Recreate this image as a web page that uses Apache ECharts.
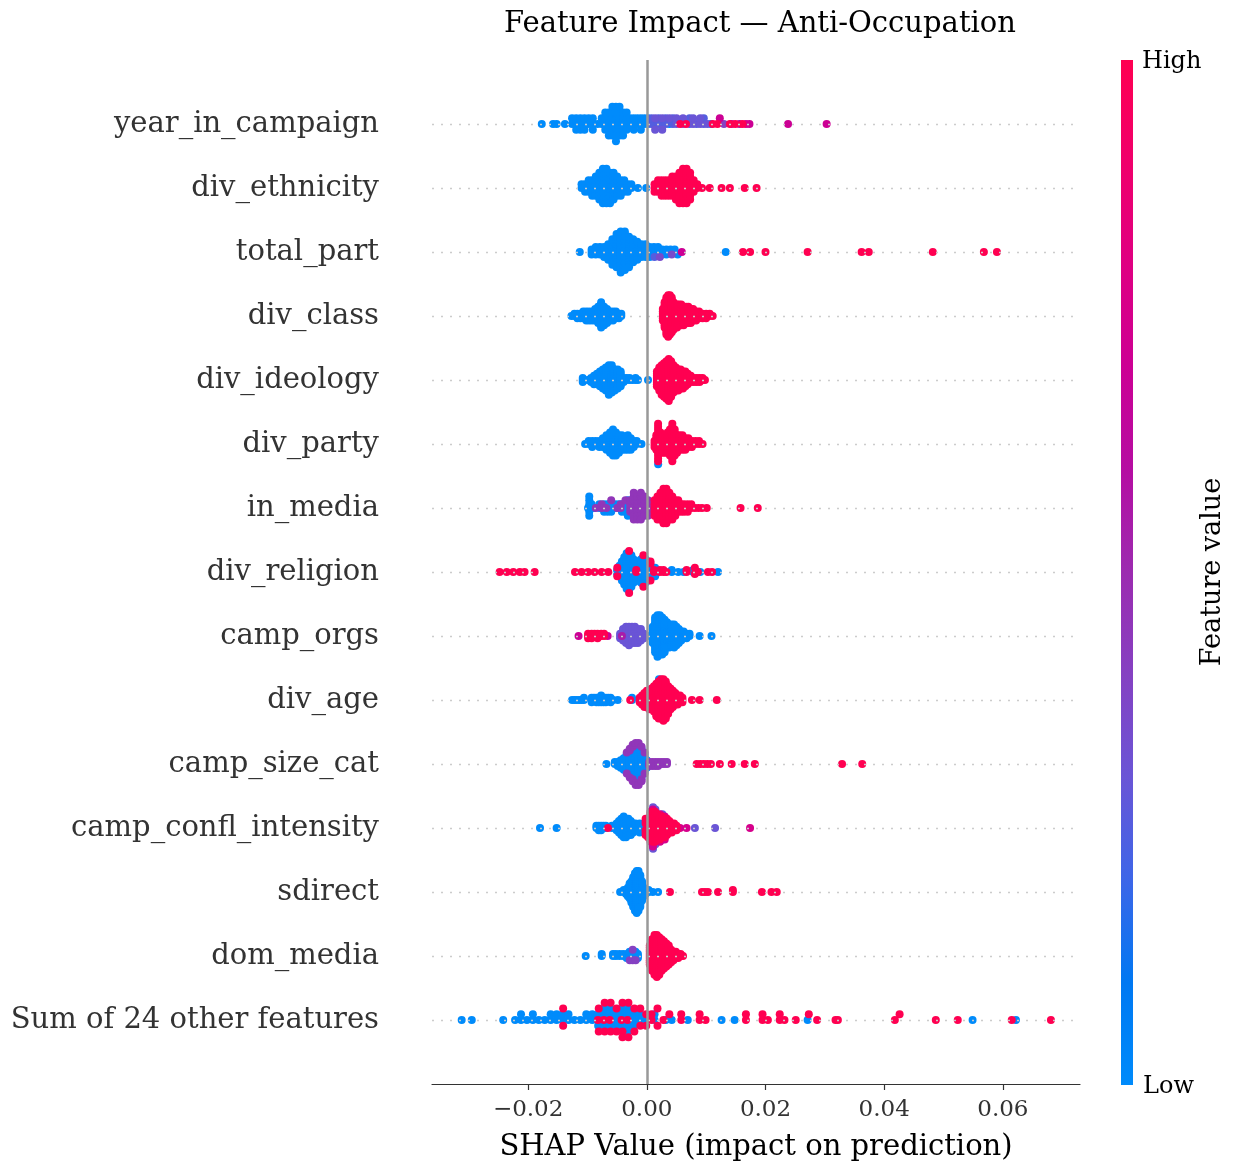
<!DOCTYPE html>
<html><head><meta charset="utf-8">
<script src="https://cdn.jsdelivr.net/npm/echarts@6/dist/echarts.min.js"></script>
<style>html,body{margin:0;padding:0;background:#fff}#c{width:1233px;height:1163px}</style>
</head><body><div id="c"></div>
<script>
// Feature names, top to bottom
const FEATURES = ["year_in_campaign","div_ethnicity","total_part","div_class","div_ideology","div_party","in_media","div_religion","camp_orgs","div_age","camp_size_cat","camp_confl_intensity","sdirect","dom_media","Sum of 24 other features"];
const X_TICKS = [-0.02, 0.00, 0.02, 0.04, 0.06];
const X_MIN = -0.0362, X_MAX = 0.0730;
// Colormap stops (low -> high feature value)
const COLOR_STOPS = ["#008bfb","#0078f2","#3d66e8","#6a55d6","#8541c2","#9c2bb0","#b50da2","#cc0094","#df0082","#f0006b","#ff0051"];

// Per feature: groups [normalized feature value, [shap (x0.001), count, shap, count, ...]]
const YEAR_IN_CAMPAIGN = [
 [0, [-17.7,1, -15.8,1, -15.2,1, -13.8,1, -12.6,2, -11.9,3, -11.2,3, -10.5,3, -9.8,2, -9.1,3, -8.3,1, -7.6,2, -7.0,4, -6.4,5, -5.8,6,
      -5.2,7, -4.6,6, -4.0,5, -3.4,4, -2.8,2, -2.2,3, -1.6,2, -1.0,3, -0.4,2, 0.2,2, 1.4,1, 2.6,1, 3.8,1, 10.8,1]],
 [0.25, [0.8,2, 2.0,2, 3.2,2, 4.4,2, 7.2,2, 8.4,1, 9.6,2]],
 [0.3, [1.4,2, 2.6,2, 3.8,1, 5.0,2, 6.1,2, 7.8,2, 9.0,2, 10.2,1]],
 [0.4, [13.0,1]],
 [0.6, [14.3,1, 15.6,1]],
 [0.7, [12.3,1, 17.3,1, 23.8,1, 30.3,1]],
 [0.75, [16.7,1]],
 [1, [5.6,1, 6.6,1, 11.1,1, 11.9,1, 14.0,1, 14.9,1, 16.1,1]]
];
const DIV_ETHNICITY = [
 [0, [-11.0,2, -10.4,3, -9.8,4, -9.2,5, -8.6,6, -8.0,8, -7.4,10, -6.8,10, -6.2,9, -5.6,8, -5.0,6, -4.4,5, -3.8,4, -3.2,3, -2.6,2, -1.5,1, -0.1,1]],
 [1, [1.3,3, 1.9,4, 2.5,5, 3.1,5, 3.7,5, 4.3,6, 4.9,7, 5.5,9, 6.1,10, 6.7,10, 7.3,8, 7.9,4, 8.5,2, 9.3,1, 10.6,1, 12.6,1, 14.0,1, 16.5,1, 18.5,1]]
];
const TOTAL_PART = [
 [0, [-11.3,1, -9.3,3, -8.6,4, -7.9,4, -7.2,5, -6.5,7, -5.8,11, -5.1,14, -4.4,17, -3.7,16, -3.0,13, -2.3,10, -1.6,8, -0.9,6, -0.2,6,
      0.5,5, 1.2,4, 1.9,4, 2.6,3, 3.3,3, 4.0,2, 4.7,2, 5.2,1, 13.3,1]],
 [0.25, [1.3,1]],
 [0.35, [2.2,1, 4.2,1]],
 [0.7, [5.9,1]],
 [1, [16.2,1, 17.4,1, 20.0,1, 27.1,1, 36.2,1, 37.4,1, 48.2,1, 56.8,1, 59.0,1]]
];
const DIV_CLASS = [
 [0, [-12.7,1, -12.2,2, -11.7,3, -11.2,3, -10.7,4, -10.2,5, -9.7,5, -9.2,5, -8.7,6, -8.2,8, -7.7,12, -7.2,9, -6.7,7, -6.2,5, -5.7,5, -5.2,4, -4.7,3, -4.3,2]],
 [1, [2.7,6, 3.0,12, 3.3,17, 3.6,19, 3.9,18, 4.2,16, 4.5,13, 4.8,11, 5.1,11, 5.4,10, 5.8,10, 6.2,9, 6.6,8, 7.0,8, 7.4,7, 7.8,6, 8.3,5, 8.8,4, 9.4,3, 10.0,3, 10.6,2, 11.1,1]]
];
const DIV_IDEOLOGY = [
 [0, [-10.8,3, -10.0,1, -9.4,3, -8.9,5, -8.4,6, -7.9,8, -7.4,10, -6.9,12, -6.4,15, -5.9,14, -5.4,11, -4.9,10, -4.4,8, -3.9,3, -3.4,2, -2.9,2, -2.4,1, -1.9,2, -1.5,1, 0.2,1]],
 [1, [1.7,8, 2.1,12, 2.5,15, 2.9,17, 3.3,19, 3.7,21, 4.1,18, 4.5,14, 4.9,12, 5.3,11, 5.7,10, 6.1,9, 6.5,8, 6.9,6, 7.4,4, 7.9,3, 8.4,3, 8.9,3, 9.4,2, 9.8,1]]
];
const DIV_PARTY = [
 [0, [-10.4,1, -9.8,2, -9.2,3, -8.6,2, -8.0,3, -7.4,4, -6.8,6, -6.2,8, -5.7,10, -5.2,9, -4.7,7, -4.2,6, -3.7,5, -3.2,6, -2.7,5, -2.2,3, -1.7,2, -0.9,1, 1.91,1]],
 [1, [1.3,3, 1.6,6, 1.9,14, 2.3,8, 2.7,7, 3.1,7, 3.5,8, 3.9,10, 4.3,14, 4.7,10, 5.1,7, 5.5,6, 6.0,6, 6.5,5, 7.0,4, 7.6,3, 8.2,2, 8.8,2, 9.4,1]]
];
const IN_MEDIA = [
 [0, [-9.9,1, -9.7,6, -9.3,2, -8.9,1, -8.0,2, -7.2,3, -6.6,3, -6.0,3, -5.4,2, -4.8,2, -4.2,3, -3.6,3, -3.2,5, -2.3,2, -1.0,2, 0.4,2]],
 [0.45, [-8.6,1, -7.6,2, -6.8,1, -6.0,1, -5.0,1, -4.4,2, -3.6,1, -2.8,4, -2.2,6, -1.6,7, -1.0,6, -0.4,6, 0.2,5, 0.8,3]],
 [1, [1.3,5, 1.8,7, 2.3,8, 2.8,10, 3.3,10, 3.8,8, 4.3,7, 4.8,5, 5.3,4, 5.8,3, 6.3,3, 6.9,3, 7.5,2, 8.1,1, 8.7,1, 9.3,1, 10.1,1, 15.8,1, 18.7,1]]
];
const DIV_RELIGION = [
 [0, [-5.0,3, -4.6,6, -4.2,10, -3.8,14, -3.4,18, -3.0,19, -2.6,16, -2.2,12, -1.8,10, -1.4,10, -1.0,12, -0.6,14, -0.2,12, 0.2,10, 0.6,7, 1.0,4, 1.4,3,
      4.2,2, 5.3,1, 6.2,1, 7.8,2, 9.0,1, 12.0,1]],
 [1, [-24.8,1, -23.6,1, -22.5,1, -21.4,1, -20.6,1, -18.9,1, -12.1,1, -11.0,1, -9.9,1, -8.8,1, -7.6,1, -6.5,1,
      -4.98,2, -2.98,2, -1.78,2, -0.58,2, 0.62,3, 1.2,2, 2.2,2, 2.8,2, 3.3,1, 6.7,2, 8.1,2, 8.6,1, 10.3,1, 11.0,1]]
];
const CAMP_ORGS = [
 [0, [0.4,1, 1.0,8, 1.4,16, 1.8,19, 2.2,18, 2.6,17, 3.0,15, 3.4,12, 3.8,11, 4.2,10, 4.6,11, 5.0,9, 5.4,7, 5.8,5, 6.2,4, 6.7,3, 7.2,2, 8.9,1, 10.9,1]],
 [0.3, [-4.5,3, -4.0,5, -3.5,8, -3.0,9, -2.5,8, -2.0,8, -1.5,7, -1.0,6, -0.5,3]],
 [0.55, [-4.2,1]],
 [0.7, [-11.5,1, -6.6,1]],
 [1, [-9.9,3, -9.3,3, -8.8,2, -8.3,3, -7.7,2, -7.2,2]]
];
const DIV_AGE = [
 [0, [-12.6,1, -12.2,1, -11.8,1, -11.4,1, -11.0,1, -10.6,2, -9.3,3, -8.9,2, -8.5,3, -8.1,3, -7.7,4, -7.3,3, -6.9,3, -6.5,2, -6.1,3, -5.7,1, -4.9,1, -2.5,2, 2.05,1]],
 [1, [-2.8,1, -1.2,3, -0.8,5, -0.4,7, 0.0,8, 0.4,9, 0.8,10, 1.2,12, 1.6,15, 2.0,17, 2.4,18, 2.8,19, 3.2,17, 3.6,13, 4.0,10, 4.4,8, 4.8,6, 5.2,5, 5.6,4, 6.0,3, 7.6,1, 8.9,1, 11.8,1]]
];
const CAMP_SIZE_CAT = [
 [0, [-6.8,1, -5.4,2, -4.9,3, -4.4,5, -3.9,7, -3.4,10, -2.9,13, -2.4,16, -1.9,19, -1.4,20, -0.9,16, -0.4,10, 0.0,5]],
 [0.45, [-3.38,2, -2.88,3, -2.38,4, -1.88,4, -1.38,3, -0.88,3, -0.38,2, 0.4,3, 0.9,3, 1.4,3, 1.9,3, 2.4,2, 2.9,2, 3.4,2]],
 [1, [8.4,1, 9.0,1, 9.6,1, 10.2,1, 10.8,1, 12.3,1, 14.3,1, 16.5,1, 18.2,1, 32.9,1, 36.3,1]]
];
const CAMP_CONFL_INTENSITY = [
 [0, [-18.0,1, -15.2,1, -8.5,2, -8.1,3, -7.7,3, -7.3,2, -6.9,2, -5.9,2, -5.1,4, -4.7,6, -4.3,8, -3.9,10, -3.5,9, -3.1,8, -2.7,7, -2.3,5, -1.9,4, -1.5,3, -1.2,2, -0.4,2]],
 [0.3, [1.05,2, 1.45,2, 2.62,2, 8.1,1, 11.5,1]],
 [0.75, [0.62,2, 1.02,3, 2.22,2, 3.02,2, 5.6,1, 6.7,1, 17.4,1]],
 [1, [-6.55,1, -0.2,6, 0.2,9, 0.6,12, 1.0,14, 1.4,14, 1.8,12, 2.2,11, 2.6,10, 3.0,9, 3.4,8, 3.8,6, 4.2,5, 4.6,4, 5.0,3]]
];
const SDIRECT = [
 [0, [-4.5,1, -3.9,2, -3.5,3, -3.2,5, -2.9,8, -2.6,11, -2.3,15, -2.0,19, -1.7,21, -1.4,20, -1.1,16, -0.8,10, -0.5,5, -0.2,3, 0.3,2, 1.0,1, 1.9,1]],
 [1, [3.9,1, 9.3,1, 9.8,1, 10.3,1, 12.0,1, 14.5,2, 19.4,1, 21.0,1, 21.9,1]]
];
const DOM_MEDIA = [
 [0, [-10.3,1, -7.6,2, -5.7,2, -5.2,2, -4.6,2, -4.0,2, -3.4,3, -2.9,4, -2.4,4, -1.9,4, -1.5,3]],
 [0.4, [-2.88,1, -2.38,2, -1.88,1]],
 [1, [0.5,10, 0.9,16, 1.3,20, 1.7,21, 2.1,19, 2.5,16, 2.9,14, 3.3,12, 3.7,10, 4.1,7, 4.5,5, 4.9,4, 5.3,3, 5.7,2, 6.1,1]]
];
const SUM_OTHER = [
 [0, [-31.2,1, -29.5,1, -24.2,1, -22.2,1, -21.2,2, -20.2,1, -19.2,2, -18.2,1, -17.2,1, -16.2,2, -15.2,2, -14.2,2, -13.2,2, -12.2,1, -11.2,1, -10.2,2,
      -9.2,2, -8.2,2, -7.2,3, -6.2,3, -5.2,3, -4.2,3, -3.2,4, -2.2,3, -1.2,2, -0.2,1, 1.3,2, 3.2,1, 4.2,1, 6.9,1, 12.6,1, 14.8,1, 27.1,1, 54.9,1, 62.2,1]],
 [1, [-14.1,2, -8.25,1, -8.1,2, -7.25,1, -7.1,2, -6.25,1, -6.1,2, -5.1,2, -4.25,1, -4.1,3, -3.25,1, -3.1,2, -2.1,2, -1.1,2, -0.1,2, 0.8,2, 1.8,2, 2.8,1, 3.8,1, 5.8,2, 8.9,2, 9.9,1,
      16.7,2, 19.5,2, 20.4,1, 22.4,2, 23.2,1, 25.1,1, 27.3,1, 28.7,1, 31.8,1, 32.2,1, 41.8,1, 42.6,1, 48.7,1, 52.4,1, 61.5,1, 68.1,1]]
];
const ROWS = [YEAR_IN_CAMPAIGN, DIV_ETHNICITY, TOTAL_PART, DIV_CLASS, DIV_IDEOLOGY, DIV_PARTY, IN_MEDIA, DIV_RELIGION, CAMP_ORGS, DIV_AGE, CAMP_SIZE_CAT, CAMP_CONFL_INTENSITY, SDIRECT, DOM_MEDIA, SUM_OTHER];

// SHAP-style beeswarm offsets (bin by value, stack alternately up/down)
function beeswarm(xs, rowHeight) {
  const n = xs.length;
  const mn = Math.min(...xs), mx = Math.max(...xs);
  const q = xs.map(x => Math.round(100 * (x - mn) / (mx - mn + 1e-8)));
  const idx = xs.map((_, i) => i).sort((a, b) => (q[a] - q[b]) || (xs[a] - xs[b]) || (a - b));
  const ys = new Array(n).fill(0);
  let layer = 0, last = -1;
  for (const i of idx) {
    if (q[i] !== last) layer = 0;
    ys[i] = Math.ceil(layer / 2) * ((layer % 2) * 2 - 1);
    layer++; last = q[i];
  }
  const m = Math.max(...ys.map(y => y + 1));
  return ys.map(y => y * 0.9 * (rowHeight / m));
}

const nRows = FEATURES.length;
const points = [];
ROWS.forEach((groups, r) => {
  const xs = [], cs = [];
  groups.forEach(([c, flat]) => {
    for (let j = 0; j < flat.length; j += 2) {
      for (let k = 0; k < flat[j + 1]; k++) { xs.push(flat[j] * 0.001); cs.push(c); }
    }
  });
  const ys = beeswarm(xs, 0.4);
  const pos = nRows - 1 - r;
  xs.forEach((x, i) => points.push([x, pos + ys[i], cs[i]]));
});

const SERIF = "'DejaVu Serif', serif";
const chart = echarts.init(document.getElementById('c'), null, {renderer: 'canvas'});
chart.setOption({
  animation: false,
  backgroundColor: '#fff',
  title: {
    text: 'Feature Impact — Anti-Occupation',
    left: 755, top: 5, textAlign: 'center',
    textStyle: {fontFamily: SERIF, fontSize: 29, fontWeight: 'normal', color: '#000'}
  },
  grid: {left: 432, right: 153, top: 60, bottom: 79, containLabel: false, outerBoundsMode: 'none'},
  xAxis: {
    type: 'value', min: X_MIN, max: X_MAX,
    axisLine: {show: true, onZero: false, lineStyle: {color: '#333', width: 1.2}},
    axisTick: {show: true, customValues: X_TICKS, length: 6, lineStyle: {color: '#333', width: 1.2}},
    axisLabel: {show: true, customValues: X_TICKS, margin: 15,
      formatter: v => (v < -1e-9 ? '\u2212' : '') + Math.abs(v).toFixed(2),
      fontFamily: SERIF, fontSize: 23, color: '#333'},
    splitLine: {show: false},
    name: 'SHAP Value (impact on prediction)', nameLocation: 'middle', nameGap: 49,
    nameTextStyle: {fontFamily: SERIF, fontSize: 29, color: '#000'}
  },
  yAxis: {
    type: 'value', min: -1, max: nRows,
    axisLine: {show: false}, axisTick: {show: false}, splitLine: {show: false},
    axisLabel: {show: true, customValues: FEATURES.map((_, i) => i), margin: 53,
      padding: [4, 0, 0, 0],
      formatter: v => FEATURES[nRows - 1 - Math.round(v)] || '',
      fontFamily: SERIF, fontSize: 29, color: '#333'}
  },
  visualMap: {
    show: false, type: 'continuous', dimension: 2, min: 0, max: 1, seriesIndex: 1,
    inRange: {color: COLOR_STOPS}
  },
  series: [
    {
      type: 'scatter', data: [], z: 1, silent: true,
      markLine: {
        silent: true, symbol: ['none', 'none'], label: {show: false}, animation: false,
        data: [
          ...FEATURES.map((_, i) => ({yAxis: i, lineStyle: {color: '#cccccc', width: 1.3, type: [2, 7]}})),
          {xAxis: 0, lineStyle: {color: '#999999', width: 2.5, type: 'solid'}}
        ]
      }
    },
    {
      type: 'scatter', data: points, z: 2, symbolSize: 8, symbol: 'circle',
      itemStyle: {opacity: 1}
    }
  ],
  graphic: [
    {
      type: 'rect', left: 1121, top: 60, z: 10,
      shape: {width: 12, height: 1025},
      style: {fill: new echarts.graphic.LinearGradient(0, 0, 0, 1,
        COLOR_STOPS.map((c, i) => ({offset: 1 - i / (COLOR_STOPS.length - 1), color: c})).reverse())}
    },
    {type: 'text', left: 1142, top: 50, z: 10, style: {text: 'High', fontFamily: SERIF, fontSize: 24, fill: '#000'}},
    {type: 'text', left: 1143, top: 1075, z: 10, style: {text: 'Low', fontFamily: SERIF, fontSize: 24, fill: '#000'}},
    {type: 'text', x: 1213, y: 572, rotation: Math.PI / 2, z: 10,
     style: {text: 'Feature value', fontFamily: SERIF, fontSize: 27, fill: '#000', align: 'center', verticalAlign: 'middle', textAlign: 'center', textVerticalAlign: 'middle'}}
  ]
});
</script>
</body></html>
